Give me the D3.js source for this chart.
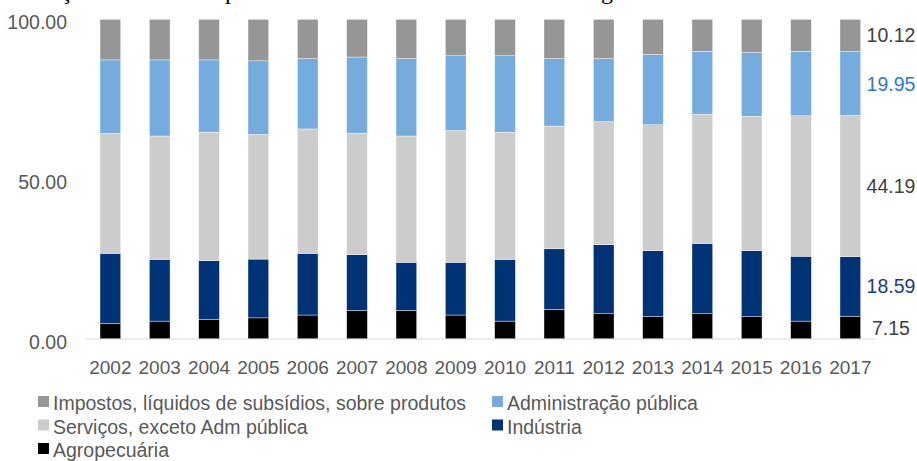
<!DOCTYPE html>
<html>
<head>
<meta charset="utf-8">
<script src="https://cdn.jsdelivr.net/npm/d3@7"></script>
<style>
  html, body { margin: 0; padding: 0; background: #fff; }
  svg { display: block; }
  text { font-family: "Liberation Sans", Arial, sans-serif; }
</style>
</head>
<body>
<svg id="chart" width="917" height="461"></svg>
<script>
// ---- data ----
const years = ["2002","2003","2004","2005","2006","2007","2008","2009","2010","2011","2012","2013","2014","2015","2016","2017"];
const agropecuaria = [4.8, 5.6, 6.2, 6.6, 7.5, 8.9, 8.9, 7.5, 5.6, 9.3, 7.9, 7.0, 7.9, 7.0, 5.6, 7.15];
const industria    = [22.0, 19.3, 18.3, 18.4, 19.3, 17.5, 15.1, 16.5, 19.3, 18.9, 21.6, 20.6, 22.0, 20.6, 20.3, 18.59];
const servicos     = [37.5, 38.6, 40.2, 39.0, 38.9, 38.0, 39.5, 41.2, 39.8, 38.4, 38.5, 39.4, 40.4, 42.1, 43.9, 44.19];
const admPublica   = [23.0, 23.8, 22.6, 23.0, 22.0, 23.8, 24.2, 23.4, 23.9, 21.1, 19.7, 22.0, 19.7, 19.9, 20.2, 19.95];
const impostos     = [12.7, 12.7, 12.7, 13.0, 12.3, 11.8, 12.3, 11.4, 11.4, 12.3, 12.3, 11.0, 10.0, 10.4, 10.0, 10.12];
const seriesNames  = ["Agropecuária", "Indústria", "Serviços, exceto Adm pública", "Administração pública", "Impostos, líquidos de subsídios, sobre produtos"];
const seriesKeys   = ["agro", "ind", "serv", "adm", "imp"];
const seriesColors = ["#000000", "#003375", "#cccccc", "#75acdd", "#969696"];
const endLabels    = ["7.15", "18.59", "44.19", "19.95", "10.12"];
const endLabelColors = ["#404040", "#1f3a7a", "#404040", "#2f78c8", "#404040"];
const yTicks = [0, 50, 100];

// ---- build table ----
const table = years.map((y, i) => ({
  year: y, agro: agropecuaria[i], ind: industria[i], serv: servicos[i], adm: admPublica[i], imp: impostos[i]
}));
const stacked = d3.stack().keys(seriesKeys)(table);

const svg = d3.select("#chart");

const x = d3.scaleBand().domain(years).range([85.7, 875]).paddingInner(0.58).paddingOuter(0.29);
const y = d3.scaleLinear().domain([0, 100]).range([339, 19.3]);

// title fragments (cut off at top, as in the reference)
const titleG = svg.append("g").attr("font-size", 24).attr("fill", "#000");
titleG.append("text").attr("x", 61).attr("y", -1).style("font-family", "Liberation Serif, serif").text("ç");
titleG.append("text").attr("x", 225).attr("y", -1).style("font-family", "Liberation Serif, serif").text("p");
titleG.append("text").attr("x", 601).attr("y", -1).style("font-family", "Liberation Serif, serif").text("g");

// bars
svg.append("g").selectAll("g").data(stacked).join("g")
  .attr("fill", (d, i) => seriesColors[i])
  .selectAll("rect").data(d => d).join("rect")
  .attr("x", d => x(d.data.year))
  .attr("width", x.bandwidth())
  .attr("y", d => y(d[1]))
  .attr("height", d => y(d[0]) - y(d[1]))
  .attr("stroke", "#ffffff").attr("stroke-width", 0.4);

// x axis baseline
svg.append("line").attr("x1", 85.7).attr("x2", 875).attr("y1", y(0)).attr("y2", y(0))
  .attr("stroke", "#d9d9d9").attr("stroke-width", 1.2);

// y tick labels
svg.append("g").selectAll("text").data(yTicks).join("text")
  .attr("x", 67).attr("y", d => y(d) + 9.5)
  .attr("text-anchor", "end").attr("font-size", 19.5).attr("fill", "#595959")
  .text(d => d3.format(".2f")(d));

// year labels
svg.append("g").selectAll("text").data(years).join("text")
  .attr("x", d => x(d) + x.bandwidth() / 2).attr("y", 374)
  .attr("text-anchor", "middle").attr("font-size", 19).attr("fill", "#595959")
  .text(d => d);

// end labels (2017 values)
const last = years.length - 1;
svg.append("g").selectAll("text").data(stacked).join("text")
  .attr("x", 891).attr("y", (d) => y((d[last][0] + d[last][1]) / 2) + 7)
  .attr("text-anchor", "middle").attr("font-size", 19.5)
  .attr("fill", (d, i) => endLabelColors[i])
  .text((d, i) => endLabels[i]);

// legend
const legendItems = [
  { i: 4, x: 38, y: 410 },
  { i: 3, x: 492, y: 410 },
  { i: 2, x: 38, y: 433.5 },
  { i: 1, x: 492, y: 433.5 },
  { i: 0, x: 38, y: 457 }
];
const lg = svg.append("g").selectAll("g").data(legendItems).join("g");
lg.append("rect").attr("x", d => d.x).attr("y", d => d.y - 14).attr("width", 11).attr("height", 11)
  .attr("fill", d => seriesColors[d.i]);
lg.append("text").attr("x", d => d.x + 15).attr("y", d => d.y)
  .attr("font-size", 19.5).attr("fill", "#595959")
  .text(d => seriesNames[d.i]);
</script>
</body>
</html>
